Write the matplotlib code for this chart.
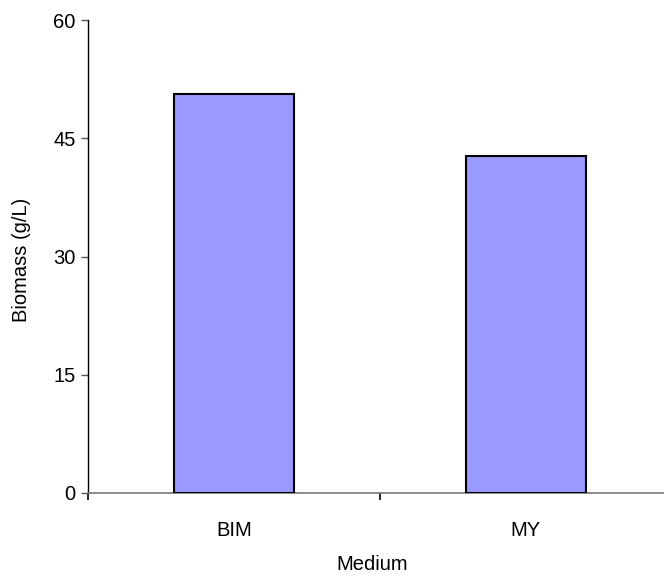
import matplotlib
matplotlib.use("Agg")
import matplotlib.pyplot as plt
from matplotlib.ticker import FixedLocator

categories = ["BIM", "MY"]
biomass = [50.6, 42.8]
y_ticks = [0, 15, 30, 45, 60]

plt.rcParams["font.family"] = ["Liberation Sans", "DejaVu Sans"]
FS = 14.5

fig = plt.figure(figsize=(6.64, 5.8), dpi=100)
ax = fig.add_axes([88 / 664, 87 / 580, 1 - 88 / 664, 473 / 580])

x = list(range(len(categories)))
ax.bar(x, biomass, width=0.41, color="#9999FF", edgecolor="black", linewidth=1.5, zorder=3)

ax.set_xlim(-0.5, 1.473)
ax.set_ylim(0, 60)
ax.set_yticks(y_ticks)
ax.set_yticklabels([str(v) for v in y_ticks], fontsize=FS)
ax.set_xticks(x)
ax.set_xticklabels(categories, fontsize=FS)
ax.tick_params(axis="x", which="major", length=0, pad=20)
ax.xaxis.set_minor_locator(FixedLocator([-0.5, 0.5, 1.5]))
ax.tick_params(axis="x", which="minor", length=5, width=1.2, color="black", direction="out")
ax.tick_params(axis="y", length=5, width=1, color="#555555", direction="out", pad=4)

for side in ("top", "right"):
    ax.spines[side].set_visible(False)
ax.spines["left"].set_color("black")
ax.spines["left"].set_linewidth(1.0)
ax.spines["bottom"].set_color("#777777")
ax.spines["bottom"].set_linewidth(1.2)

fig.text(22 / 664, 1 - 260 / 580, "Biomass (g/L)", rotation=90, ha="center", va="center", fontsize=FS)
fig.text(372 / 664, 1 - 565 / 580, "Medium", ha="center", va="center", fontsize=FS)

fig.savefig("out.png", dpi=100)
